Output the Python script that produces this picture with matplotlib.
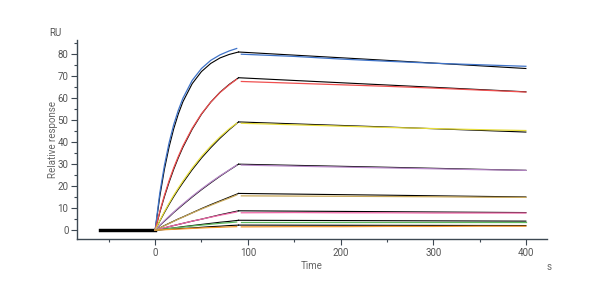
import matplotlib
matplotlib.use("Agg")
import matplotlib.pyplot as plt
from matplotlib.ticker import MultipleLocator

plt.rcParams['font.family'] = ['Roboto', 'DejaVu Sans']

# time grids (s)
base_t = [-60, 0]
t_assoc_fit = [0, 5, 10, 15, 20, 25, 30, 40, 50, 60, 70, 80, 90]
t_assoc_data = [0, 5, 10, 15, 20, 25, 30, 40, 50, 60, 70, 80, 88]
t_diss_fit = [90, 250, 400]
t_diss_data = [93, 150, 200, 250, 300, 350, 400]

colors = ['#3f73c8', '#f05050', '#e6dc3c', '#b888c8', '#c8a85a', '#f068a8', '#5cb85c', '#f0962a']

# measured response (RU), highest concentration first
data_assoc = [
    [0, 16.8, 29.4, 39.6, 47.9, 54.5, 60.0, 68.1, 73.5, 77.2, 79.7, 81.5, 82.6],
    [0, 8.4, 15.8, 22.4, 28.3, 33.5, 38.3, 46.3, 52.9, 58.2, 62.6, 66.1, 68.6],
    [0, 4.3, 8.4, 12.2, 15.8, 19.1, 22.3, 28.2, 33.5, 38.2, 42.4, 46.1, 48.6],
    [0, 2.2, 4.3, 6.3, 8.2, 10.1, 11.9, 15.4, 18.7, 21.8, 24.7, 27.4, 29.6],
    [0, 1.0, 2.0, 3.0, 4.0, 5.0, 5.9, 7.8, 9.6, 11.3, 13.0, 14.6, 16.0],
    [0, 0.5, 1.1, 1.6, 2.1, 2.6, 3.1, 4.1, 5.0, 5.9, 6.8, 7.6, 8.3],
    [0, 0.2, 0.5, 0.7, 1.0, 1.2, 1.4, 1.9, 2.3, 2.7, 3.1, 3.4, 3.7],
    [0, 0.1, 0.2, 0.3, 0.4, 0.5, 0.6, 0.8, 1.0, 1.2, 1.3, 1.5, 1.6],
]
data_diss = [
    [80.0, 79.0, 77.8, 76.8, 75.9, 75.2, 74.5],
    [67.6, 66.8, 66.1, 65.4, 64.6, 63.7, 62.8],
    [48.6, 47.9, 47.3, 46.7, 46.2, 45.7, 45.3],
    [29.6, 29.1, 28.7, 28.3, 27.9, 27.5, 27.2],
    [15.6, 15.5, 15.4, 15.3, 15.2, 15.0, 14.9],
    [7.9, 8.0, 7.9, 7.9, 7.8, 7.8, 7.8],
    [3.5, 3.5, 3.5, 3.5, 3.5, 3.5, 3.5],
    [1.5, 1.6, 1.6, 1.7, 1.7, 1.8, 1.8],
]

# fitted curves (RU)
fit_assoc = [
    [0, 15.2, 27.6, 37.7, 46.0, 52.8, 58.4, 66.6, 72.1, 75.8, 78.3, 79.9, 81.0],
    [0, 8.0, 15.2, 21.7, 27.6, 32.9, 37.7, 45.9, 52.7, 58.2, 62.7, 66.3, 69.3],
    [0, 4.1, 8.0, 11.7, 15.2, 18.5, 21.6, 27.5, 32.8, 37.5, 41.8, 45.7, 49.2],
    [0, 2.1, 4.1, 6.0, 8.0, 9.8, 11.6, 15.1, 18.4, 21.5, 24.5, 27.3, 30.0],
    [0, 1.0, 2.1, 3.1, 4.1, 5.1, 6.0, 7.9, 9.8, 11.6, 13.3, 15.0, 16.7],
    [0, 0.5, 1.0, 1.6, 2.1, 2.6, 3.1, 4.1, 5.0, 6.0, 7.0, 7.9, 8.8],
    [0, 0.3, 0.5, 0.8, 1.0, 1.3, 1.6, 2.1, 2.6, 3.1, 3.6, 4.0, 4.5],
    [0, 0.1, 0.3, 0.4, 0.5, 0.7, 0.8, 1.0, 1.3, 1.6, 1.8, 2.1, 2.3],
]
fit_diss = [
    [81.0, 77.2, 73.5],
    [69.3, 66.0, 62.9],
    [49.2, 46.9, 44.6],
    [30.0, 28.6, 27.2],
    [16.7, 15.9, 15.1],
    [8.8, 8.4, 8.0],
    [4.5, 4.3, 4.1],
    [2.3, 2.2, 2.1],
]

fig = plt.figure(figsize=(6, 3), dpi=100)
ax = fig.add_axes([0.128, 0.202, 0.784, 0.665])

for fa, fd in zip(fit_assoc, fit_diss):
    ax.plot(t_assoc_fit, fa, color='black', lw=0.8, zorder=2)
    ax.plot(t_diss_fit, fd, color='black', lw=0.8, zorder=2)
    ax.plot(base_t, [0, 0], color='black', lw=2.2, zorder=2)

for c, da, dd in zip(colors, data_assoc, data_diss):
    ax.plot(t_assoc_data, da, color=c, lw=0.9, zorder=3)
    ax.plot(t_diss_data, dd, color=c, lw=0.9, zorder=3)

ax.set_xlim(-84.5, 423)
ax.set_ylim(-4.2, 86.5)

ax.xaxis.set_major_locator(MultipleLocator(100))
ax.xaxis.set_minor_locator(MultipleLocator(50))
ax.yaxis.set_major_locator(MultipleLocator(10))
ax.yaxis.set_minor_locator(MultipleLocator(5))

axc = '#3d4852'
for s in ['top', 'right']:
    ax.spines[s].set_visible(False)
for s in ['left', 'bottom']:
    ax.spines[s].set_color(axc)
    ax.spines[s].set_linewidth(1.0)

ax.tick_params(which='major', length=4, width=0.8, color=axc, labelsize=7, labelcolor='#555555', pad=2)
ax.tick_params(which='minor', length=2.5, width=0.8, color=axc)

txt = '#666666'
ax.set_xlabel('Time', fontsize=7, color=txt)
ax.set_ylabel('Relative response', fontsize=7, color=txt)
ax.xaxis.set_label_coords(0.5, -0.11)
ax.yaxis.set_label_coords(-0.04, 0.5)
fig.text(55 / 600, 1 - 33 / 300, 'RU', fontsize=7, color='#555555', ha='center', va='center')
fig.text(549 / 600, 1 - 267 / 300, 's', fontsize=7, color=txt, ha='center', va='center')

fig.savefig('out.png', dpi=100)
